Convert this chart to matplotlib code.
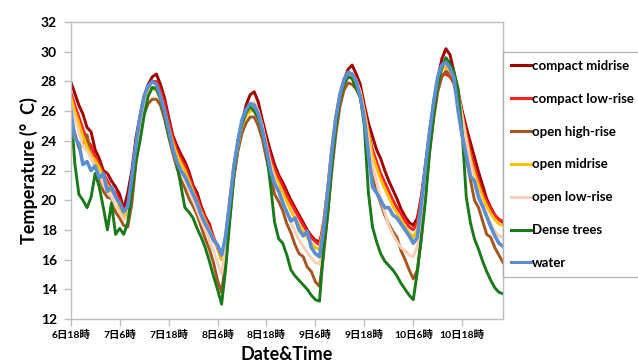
import matplotlib
matplotlib.use('Agg')
import matplotlib.pyplot as plt
import numpy as np

plt.rcParams['font.family'] = ['Lato', 'Noto Sans CJK JP', 'DejaVu Sans']

# hours since 6日18時, one reading per hour
hours = list(range(107))

compact_midrise = [
    28.0, 27.2, 26.4, 25.8, 24.9, 24.6, 23.4, 22.8, 22.0, 21.8, 21.3, 20.9, 20.4, 19.4, 20.5, 22.0,
    24.2, 25.7, 27.0, 27.8, 28.3, 28.5, 27.8, 26.9, 25.6, 24.4, 23.7, 23.1, 22.6, 21.9, 21.0, 20.5,
    19.6, 18.9, 18.4, 17.5, 16.8, 16.0, 17.0, 19.3, 21.6, 23.6, 25.2, 26.4, 27.1, 27.3, 26.6, 25.4,
    24.3, 23.3, 22.4, 21.7, 21.2, 20.6, 20.0, 19.5, 19.0, 18.5, 18.0, 17.6, 17.3, 17.2, 18.0, 20.0,
    22.7, 25.2, 27.0, 28.1, 28.8, 29.1, 28.5, 27.8, 26.4, 25.2, 24.3, 23.4, 22.8, 22.0, 21.3, 20.7,
    20.1, 19.4, 18.9, 18.5, 18.3, 18.8, 20.3, 22.4, 24.6, 26.6, 28.2, 29.5, 30.2, 29.8, 28.6, 27.3,
    26.0, 24.9, 23.9, 22.9, 21.9, 21.0, 20.1, 19.5, 19.0, 18.7, 18.5]

compact_lowrise = [
    27.3, 26.4, 25.6, 24.8, 24.0, 23.7, 22.9, 22.4, 21.8, 21.3, 20.8, 20.5, 20.0, 19.3, 19.6, 21.4,
    23.6, 25.5, 26.9, 27.6, 28.0, 28.0, 27.4, 26.5, 25.3, 24.2, 23.4, 22.8, 22.3, 21.6, 20.8, 20.2,
    19.4, 18.8, 18.2, 17.5, 16.9, 16.1, 17.6, 20.0, 22.3, 24.0, 25.3, 26.1, 26.5, 26.5, 25.9, 25.0,
    23.9, 22.9, 22.1, 21.5, 20.9, 20.3, 19.8, 19.3, 18.8, 18.3, 17.9, 17.5, 17.2, 17.0, 18.5, 20.8,
    23.4, 25.6, 27.1, 28.0, 28.4, 28.5, 28.1, 27.4, 26.0, 24.6, 23.4, 22.6, 21.8, 21.2, 20.6, 20.0,
    19.5, 19.1, 18.6, 18.2, 18.0, 18.5, 20.2, 22.3, 24.5, 26.4, 27.8, 28.4, 28.5, 28.3, 27.9, 27.0,
    25.8, 24.5, 23.2, 22.2, 21.3, 20.5, 19.9, 19.4, 19.0, 18.7, 18.6]

open_highrise = [
    25.5, 24.5, 23.5, 23.8, 24.4, 23.0, 22.2, 21.6, 20.6, 20.2, 20.1, 19.2, 18.8, 18.3, 18.2, 19.8,
    22.5, 24.4, 25.8, 26.5, 26.8, 26.8, 26.4, 25.5, 24.3, 23.2, 22.2, 21.4, 20.8, 20.1, 19.6, 19.0,
    18.2, 17.4, 16.7, 15.8, 14.6, 13.8, 15.9, 18.8, 21.5, 23.3, 24.5, 25.2, 25.6, 25.6, 25.0, 24.1,
    22.8, 21.6, 20.4, 19.9, 19.3, 18.4, 17.8, 17.0, 16.4, 16.2, 15.5, 15.2, 14.5, 14.2, 16.3, 19.0,
    21.9, 24.4, 26.3, 27.4, 27.9, 27.8, 27.5, 26.9, 25.4, 23.5, 21.5, 20.6, 19.8, 19.0, 18.4, 17.9,
    17.5, 16.6, 16.0, 15.3, 14.7, 15.3, 17.6, 20.4, 23.2, 25.5, 27.3, 28.3, 28.7, 28.5, 27.8, 26.6,
    24.7, 22.8, 21.4, 20.0, 19.5, 18.6, 17.7, 17.5, 16.8, 16.3, 15.8]

open_midrise = [
    27.0, 26.0, 25.2, 24.3, 23.6, 23.0, 22.7, 22.2, 21.6, 21.0, 20.6, 20.3, 19.5, 18.8, 19.2, 21.0,
    23.2, 25.2, 26.6, 27.3, 27.5, 27.4, 26.9, 26.0, 24.9, 23.9, 23.1, 22.5, 22.0, 21.3, 20.6, 19.9,
    19.2, 18.6, 18.0, 17.4, 16.8, 16.0, 17.4, 19.8, 22.0, 23.8, 25.0, 25.7, 26.0, 26.0, 25.5, 24.6,
    23.5, 22.5, 21.7, 21.1, 20.5, 19.9, 19.3, 18.8, 18.3, 17.9, 17.5, 17.1, 16.8, 16.7, 18.2, 20.6,
    23.2, 25.5, 27.0, 27.9, 28.3, 28.3, 28.0, 27.3, 26.0, 24.5, 23.0, 22.2, 21.4, 20.8, 20.2, 19.6,
    19.1, 18.7, 18.2, 17.8, 17.5, 18.0, 19.8, 22.0, 24.4, 26.5, 28.0, 28.8, 29.0, 28.7, 28.2, 27.1,
    25.6, 24.2, 22.8, 21.8, 21.0, 20.2, 19.6, 19.1, 18.7, 18.4, 18.3]

open_lowrise = [
    26.5, 25.5, 24.6, 23.6, 23.3, 22.8, 22.3, 21.8, 21.0, 20.6, 20.2, 19.6, 19.2, 18.7, 18.9, 20.8,
    23.1, 25.0, 26.5, 27.3, 27.6, 27.6, 27.0, 26.0, 24.8, 23.6, 22.7, 22.0, 21.4, 20.7, 20.0, 19.3,
    18.6, 18.0, 17.3, 16.6, 15.8, 15.0, 16.8, 19.3, 21.8, 23.7, 25.1, 26.0, 26.5, 26.6, 26.0, 25.0,
    23.7, 22.4, 21.4, 20.7, 20.0, 19.2, 18.5, 17.9, 17.3, 16.9, 16.5, 16.1, 15.8, 15.7, 17.4, 20.0,
    22.9, 25.3, 27.0, 28.0, 28.5, 28.5, 28.1, 27.3, 25.7, 24.0, 22.3, 21.3, 20.0, 19.2, 18.3, 17.7,
    17.2, 16.8, 16.6, 16.3, 16.2, 16.9, 19.0, 21.6, 24.2, 26.4, 28.1, 28.9, 29.2, 28.9, 28.3, 27.2,
    25.6, 24.0, 22.5, 21.4, 20.5, 19.7, 19.0, 18.4, 17.9, 17.6, 17.5]

dense_trees = [
    26.3, 22.5, 20.4, 20.0, 19.5, 20.2, 21.8, 20.9, 19.5, 18.0, 19.8, 17.7, 18.1, 17.7, 18.5, 20.5,
    22.6, 24.0, 25.7, 27.0, 27.6, 27.5, 26.8, 25.7, 24.4, 23.4, 22.5, 21.0, 19.5, 19.2, 18.8, 18.1,
    17.5, 16.8, 15.9, 14.9, 14.0, 13.0, 15.4, 18.6, 21.6, 23.8, 25.1, 25.9, 26.3, 26.0, 25.5, 24.5,
    23.2, 21.0, 18.5, 17.4, 17.1, 16.3, 15.3, 14.9, 14.6, 14.3, 14.0, 13.6, 13.3, 13.2, 16.7, 19.0,
    22.3, 24.9, 26.8, 27.8, 28.3, 28.2, 27.5, 27.0, 25.0, 20.5, 18.2, 17.2, 16.4, 15.9, 15.6, 15.3,
    14.9, 14.4, 14.0, 13.6, 13.3, 15.2, 17.5, 20.0, 23.3, 25.6, 27.8, 28.9, 29.6, 29.2, 28.6, 27.5,
    24.5, 20.2, 18.5, 17.4, 16.7, 15.9, 15.2, 14.6, 14.1, 13.8, 13.7]

water = [
    26.0, 24.2, 23.8, 22.4, 22.6, 22.0, 22.3, 21.5, 21.8, 20.6, 20.9, 20.2, 19.8, 19.2, 19.6, 21.6,
    23.8, 25.6, 27.0, 27.7, 28.0, 27.8, 27.0, 26.0, 24.8, 23.5, 22.6, 22.0, 21.6, 21.0, 20.4, 19.8,
    19.0, 18.4, 17.9, 17.3, 17.0, 16.3, 17.6, 19.8, 22.2, 24.0, 25.4, 26.1, 26.5, 26.4, 25.8, 24.7,
    23.4, 22.0, 21.1, 20.6, 19.8, 19.2, 18.6, 18.8, 18.0, 17.6, 17.9, 16.8, 16.4, 16.2, 18.0, 20.5,
    23.2, 25.5, 27.1, 28.1, 28.6, 28.5, 28.0, 27.0, 25.5, 23.2, 20.9, 20.5, 20.0, 19.5, 19.5, 19.0,
    18.8, 18.4, 18.0, 17.6, 17.1, 17.5, 19.8, 22.3, 24.6, 26.6, 28.3, 29.1, 29.3, 28.9, 28.2, 26.0,
    24.3, 23.0, 21.6, 21.3, 20.2, 19.6, 18.9, 18.2, 17.6, 17.1, 16.9]

series_names = ['compact midrise', 'compact low-rise', 'open high-rise', 'open midrise',
                'open low-rise', 'Dense trees', 'water']
series_colors = ['#A00000', '#FF2020', '#A5561E', '#FFC000', '#F9D0B6', '#1A7A1A', '#5B8FCF']

tick_hours = [0, 12, 24, 36, 48, 60, 72, 84, 96]
tick_labels = ['6日18時', '7日6時', '7日18時', '8日6時', '8日18時', '9日6時', '9日18時', '10日6時', '10日18時']

fig = plt.figure(figsize=(6.38, 3.63), dpi=100)
ax = fig.add_axes([70.7 / 638, 44 / 363, (503 - 70.7) / 638, (319 - 22) / 363])

all_series = [compact_midrise, compact_lowrise, open_highrise, open_midrise,
              open_lowrise, dense_trees, water]
for values, name, color in zip(all_series, series_names, series_colors):
    lw = 2.6 if name == 'water' else 2.1
    ax.plot(hours, values, color=color, lw=lw, label=name, solid_joinstyle='round')

ax.set_xlim(0, 106)
ax.set_ylim(12, 32)
ax.set_yticks(np.arange(12, 33, 2))
ax.set_xticks(tick_hours)
ax.set_xticklabels(tick_labels, fontsize=7.5, fontweight='bold')
for lab in ax.get_yticklabels():
    lab.set_fontsize(10)
    lab.set_fontweight('bold')

for sp in ax.spines.values():
    sp.set_color('#BFBFBF')
    sp.set_linewidth(1)
ax.tick_params(axis='both', color='#BFBFBF', length=5, width=1)
ax.tick_params(axis='y', pad=5)
ax.tick_params(axis='x', pad=3)

ax.set_ylabel('Temperature (°  C)', fontsize=13, fontweight='bold', labelpad=2)
ax.set_xlabel('Date&Time', fontsize=13, fontweight='bold', labelpad=4)

leg = fig.legend(loc='upper left', bbox_to_anchor=(503 / 638, 1 - 52 / 363), borderaxespad=0,
                 frameon=True, fancybox=False, edgecolor='#A6A6A6',
                 prop={'weight': 'bold', 'size': 9.5}, handlelength=1.5, handletextpad=0.1,
                 labelspacing=1.58, borderpad=0.6)
leg.get_frame().set_linewidth(1)
for line in leg.get_lines():
    line.set_linewidth(2.2)

fig.savefig('out.png', dpi=100)
